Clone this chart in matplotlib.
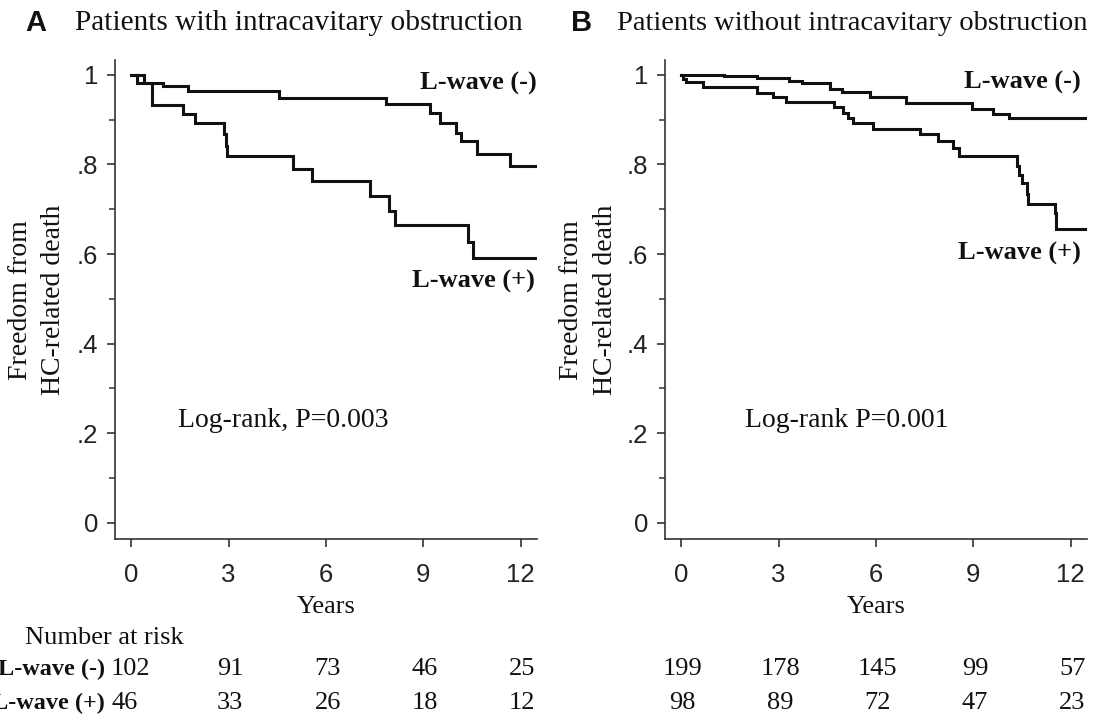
import matplotlib
matplotlib.use("Agg")
import matplotlib.pyplot as plt
import matplotlib.transforms as mtransforms
from matplotlib.ticker import FixedLocator

# ---------------- data ----------------
titles = ["Patients with intracavitary obstruction",
          "Patients without intracavitary obstruction"]
panel_letters = ["A", "B"]
pvalue_texts = ["Log-rank, P=0.003", "Log-rank P=0.001"]

a_neg_t = [0, 0.38, 0.99, 1.76, 4.55, 7.85, 9.2, 9.5, 10.0, 10.17, 10.64, 11.66, 12.48]
a_neg_s = [1.0, 0.981, 0.975, 0.963, 0.949, 0.935, 0.914, 0.892, 0.871, 0.853, 0.824, 0.797, 0.797]
a_pos_t = [0, 0.19, 0.64, 1.59, 1.95, 2.86, 2.92, 2.95, 4.99, 5.58, 7.35, 7.93, 8.13, 10.38, 10.53, 12.48]
a_pos_s = [1.0, 0.981, 0.933, 0.913, 0.892, 0.868, 0.842, 0.818, 0.790, 0.762, 0.730, 0.697, 0.664, 0.626, 0.591, 0.591]

b_neg_t = [0, 1.33, 2.33, 3.31, 3.72, 4.57, 4.96, 5.80, 6.93, 8.97, 9.61, 10.10, 12.45]
b_neg_s = [1.0, 0.997, 0.993, 0.987, 0.981, 0.968, 0.962, 0.951, 0.937, 0.923, 0.913, 0.903, 0.903]
b_pos_t = [0, 0.05, 0.15, 0.66, 2.33, 2.82, 3.23, 4.72, 4.98, 5.15, 5.29, 5.90, 7.35, 7.91,
           8.37, 8.56, 10.33, 10.41, 10.51, 10.66, 10.69, 11.51, 11.56, 12.45]
b_pos_s = [1.0, 0.99, 0.983, 0.972, 0.960, 0.950, 0.940, 0.929, 0.914, 0.903, 0.893, 0.879,
           0.868, 0.852, 0.836, 0.819, 0.796, 0.776, 0.759, 0.735, 0.711, 0.691, 0.655, 0.655]

x_ticks = [0, 3, 6, 9, 12]
y_ticks = [0, 0.2, 0.4, 0.6, 0.8, 1.0]
y_ticklabels = ["0", ".2", ".4", ".6", ".8", "1"]

risk_a_neg = [102, 91, 73, 46, 25]
risk_a_pos = [46, 33, 26, 18, 12]
risk_b_neg = [199, 178, 145, 99, 57]
risk_b_pos = [98, 89, 72, 47, 23]

# ---------------- style ----------------
SERIF = "Liberation Serif"
SANS = "Liberation Sans"
W, H = 1093, 721
fig = plt.figure(figsize=(W / 100, H / 100), dpi=100)

axes_px = [(115, 60, 537, 539), (665, 60, 1087, 539)]
curves = [((a_neg_t, a_neg_s), (a_pos_t, a_pos_s)),
          ((b_neg_t, b_neg_s), (b_pos_t, b_pos_s))]
risks = [(risk_a_neg, risk_a_pos), (risk_b_neg, risk_b_pos)]
neg_label_pos = [(1.0, 0.952), (0.985, 0.954)]
pos_label_pos = [(0.995, 0.537), (0.985, 0.597)]
pval_pos = [(0.149, 0.248), (0.19, 0.248)]
ylabel_x = [(21, 54), (572, 606)]
letter_x = [36, 582]
title_x = [75, 617]
title_size = [21.2, 20.5]

spine_col = "#333333"
for i in range(2):
    l, t, r, b = axes_px[i]
    ax = fig.add_axes([l / W, 1 - b / H, (r - l) / W, (b - t) / H])
    (nt, ns), (pt, ps) = curves[i]
    ax.step(nt, ns, where="post", color="#111111", lw=2.2, solid_joinstyle="miter")
    ax.step(pt, ps, where="post", color="#111111", lw=2.2, solid_joinstyle="miter")
    ax.set_xlim(-0.5, 12.5)
    ax.set_ylim(-0.036, 1.033)
    for s in ["top", "right"]:
        ax.spines[s].set_visible(False)
    for s in ["left", "bottom"]:
        ax.spines[s].set_color(spine_col)
        ax.spines[s].set_linewidth(1.2)
    ax.set_xticks(x_ticks)
    ax.set_xticklabels([str(v) for v in x_ticks], fontfamily=SANS, fontsize=18.5)
    ax.set_yticks(y_ticks)
    ax.set_yticklabels(y_ticklabels, fontfamily=SANS, fontsize=18.5)
    ax.yaxis.set_minor_locator(FixedLocator([0.1, 0.3, 0.5, 0.7, 0.9]))
    ax.tick_params(axis="x", direction="out", length=6, width=1.2, color=spine_col, pad=11,
                   labelcolor="#222222")
    ax.tick_params(axis="y", which="major", direction="out", length=6, width=1.2,
                   color=spine_col, pad=6, labelcolor="#222222")
    ax.tick_params(axis="y", which="minor", direction="out", length=4, width=1.1, color=spine_col)

    ax.text(*neg_label_pos[i], "L-wave (-)", transform=ax.transAxes, ha="right", va="center",
            fontfamily=SERIF, fontweight="bold", fontsize=19, color="#111111")
    ax.text(*pos_label_pos[i], "L-wave (+)", transform=ax.transAxes, ha="right", va="center",
            fontfamily=SERIF, fontweight="bold", fontsize=19, color="#111111")
    ax.text(*pval_pos[i], pvalue_texts[i], transform=ax.transAxes, ha="left", va="center",
            fontfamily=SERIF, fontsize=20, color="#111111")

    # y label (two lines)
    fig.text(ylabel_x[i][0] / W, 1 - 300 / H, "Freedom from", rotation=90, ha="center",
             va="center", fontfamily=SERIF, fontsize=20, color="#111111")
    fig.text(ylabel_x[i][1] / W, 1 - 300 / H, "HC-related death", rotation=90, ha="center",
             va="center", fontfamily=SERIF, fontsize=20, color="#111111")
    # x label
    fig.text(((l + r) / 2) / W, 1 - 607 / H, "Years", ha="center", va="center",
             fontfamily=SERIF, fontsize=19, color="#111111")
    # title
    fig.text(letter_x[i] / W, 1 - 23 / H, panel_letters[i], ha="center", va="center",
             fontfamily=SANS, fontweight="bold", fontsize=21, color="#111111")
    fig.text(title_x[i] / W, 1 - 23 / H, titles[i], ha="left", va="center",
             fontfamily=SERIF, fontsize=title_size[i], color="#111111")

    # number at risk
    trans = mtransforms.blended_transform_factory(ax.transData, fig.transFigure)
    for row, yy in zip(risks[i], [669, 703]):
        for j, (xt, n) in enumerate(zip(x_ticks, row)):
            if i == 0 and j == 0:
                ax.text(-0.62, 1 - yy / H, str(n), transform=trans, ha="left", va="center",
                        fontfamily=SERIF, fontsize=19, color="#111111")
            else:
                ax.text(xt + 0.05, 1 - yy / H, str(n), transform=trans, ha="center",
                        va="center", fontfamily=SERIF, fontsize=19, color="#111111")

fig.text(105 / W, 1 - 669 / H, "L-wave (-)", ha="right", va="center", fontfamily=SERIF,
         fontweight="bold", fontsize=17.5, color="#111111")
fig.text(105 / W, 1 - 703 / H, "L-wave (+)", ha="right", va="center", fontfamily=SERIF,
         fontweight="bold", fontsize=17.5, color="#111111")
fig.text(25 / W, 1 - 638 / H, "Number at risk", ha="left", va="center", fontfamily=SERIF,
         fontsize=19, color="#111111")

fig.savefig("out.png", dpi=100)
